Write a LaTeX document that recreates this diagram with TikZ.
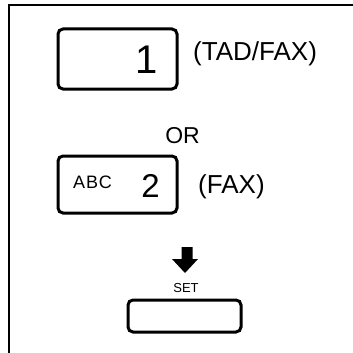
\documentclass[tikz,border=0pt]{standalone}
\usepackage{fontspec}
\setmainfont{Liberation Sans}
\usetikzlibrary{positioning}

\begin{document}
\begin{tikzpicture}[
    x=1pt, y=-1pt,
    key/.style={rectangle, draw=black, line width=3pt, rounded corners=5pt, minimum width=119pt, minimum height=60pt, inner sep=0pt},
    tag/.style={font=\fontsize{26}{26}\selectfont, anchor=west, inner sep=0pt},
    digit/.style={font=\fontsize{#1}{#1}\selectfont, anchor=base east, inner sep=0pt}
]
    \useasboundingbox (0,0) rectangle (353,353);
    % open frame
    \draw[line width=2.5pt] (9,353) -- (9,5) -- (353,5);

    \node[key] (keyone) at (117.5,59) {};
    \node[digit=40] (one) at (157.5,73.5) {1};
    \node[tag] (tadfax) at (193,54) {(TAD/FAX)};

    \node[font=\fontsize{23}{23}\selectfont, inner sep=0pt] (or) at (182.5,136) {OR};

    \node[key, minimum height=57pt] (keytwo) at (117.5,184.5) {};
    \node[font=\fontsize{18}{18}\selectfont\addfontfeature{LetterSpace=5}, anchor=base west, inner sep=0pt] (abc) at (73,188) {ABC};
    \node[digit=33] (two) at (160,197) {2};
    \node[tag] (fax) at (198,187) {(FAX)};

    % down arrow
    \fill (181.5,247) -- (192.5,247) -- (192.5,259) -- (198,259) -- (185,273) -- (172,259) -- (181.5,259) -- cycle;

    \node[font=\fontsize{13}{13}\selectfont, anchor=base, inner sep=0pt] (set) at (186,292) {SET};
    \node[key, minimum width=113pt, minimum height=32pt] (setkey) at (184.5,316) {};
\end{tikzpicture}
\end{document}
